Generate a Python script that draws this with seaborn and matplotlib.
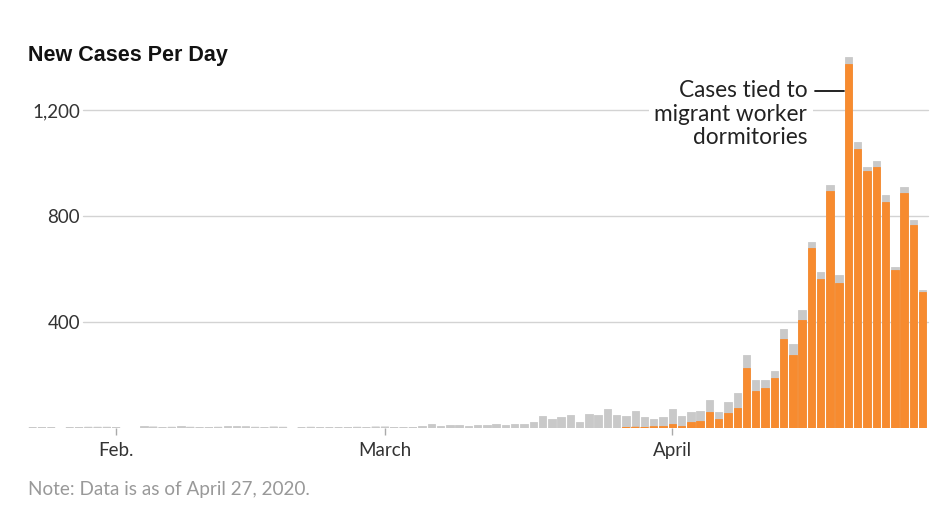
import numpy as np
import pandas as pd
import matplotlib
matplotlib.use("Agg")
import matplotlib.pyplot as plt
import seaborn as sns

# ---------------- data ----------------
start_date = "2020-01-23"
end_date = "2020-04-28"

total_cases = [
    # Jan 23 - Jan 31
    1, 2, 1, 0, 1, 2, 3, 3, 3,
    # Feb 1 - Feb 29
    2, 0, 0, 6, 4, 2, 3, 7, 3, 2, 2, 3, 8, 9, 5, 3, 2, 4, 3, 0, 1, 3, 1, 1, 1, 2, 3, 2, 4,
    # Mar 1 - Mar 31
    4, 2, 2, 2, 8, 15, 9, 13, 10, 6, 13, 10, 15, 11, 15, 16, 23, 45, 33, 40, 48, 23, 54,
    50, 71, 49, 46, 65, 40, 33, 43,
    # Apr 1 - Apr 28
    72, 45, 60, 64, 106, 59, 97, 133, 276, 181, 180, 215, 372, 317, 444, 702, 590, 916,
    579, 1399, 1079, 985, 1008, 879, 608, 908, 785, 522,
]

dorm_cases = (
    [0] * 9 + [0] * 29 +
    [0] * 26 + [1, 3, 2, 5, 9] +
    [15, 9, 24, 28, 59, 35, 58, 75, 228, 141, 152, 189, 335, 276, 408, 679, 564, 896,
     548, 1374, 1053, 969, 985, 853, 597, 888, 766, 512]
)

tick_dates = ["2020-02-01", "2020-03-01", "2020-04-01"]
tick_labels = ["Feb.", "March", "April"]
y_ticks = [400, 800, 1200]
y_tick_labels = ["400", "800", "1,200"]

title = "New Cases Per Day"
note = "Note: Data is as of April 27, 2020."
annotation = "Cases tied to\nmigrant worker\ndormitories"

# ---------------- frame ----------------
dates = pd.date_range(start_date, end_date, freq="D")
df = pd.DataFrame({
    "date": dates,
    "day": (dates - dates[0]).days,
    "total": total_cases,
    "dorm": dorm_cases,
})
# days without cases draw no bar at all
df["total_bar"] = df["total"].replace(0, np.nan)
df["dorm_bar"] = df["dorm"].replace(0, np.nan)
tick_pos = [(pd.Timestamp(d) - dates[0]).days for d in tick_dates]

GRAY = "#c9c9c9"
ORANGE = "#f78b2f"
GRID = "#d3d3d3"
TEXT = "#333333"

sns.set_style("white")
plt.rcParams["font.family"] = ["Lato", "DejaVu Sans"]

W, H = 949, 524
fig = plt.figure(figsize=(W / 100, H / 100), dpi=100)
L, R, B, T = 20, 930, 428, 40
ax = fig.add_axes([L / W, 1 - B / H, (R - L) / W, (B - T) / H])

bar_w = 0.80
edge_lw = 0.6
sns.barplot(data=df, x="day", y="total_bar", native_scale=True, orient="x",
            color=GRAY, saturation=1, width=bar_w, errorbar=None, ax=ax,
            linewidth=edge_lw, edgecolor=GRAY, zorder=2)
sns.barplot(data=df, x="day", y="dorm_bar", native_scale=True, orient="x",
            color=ORANGE, saturation=1, width=bar_w, errorbar=None, ax=ax,
            linewidth=edge_lw, edgecolor=ORANGE, zorder=3)
# very short bars: let them render as a thin antialiased strip instead of vanishing
for p in ax.patches:
    if np.isfinite(p.get_height()) and p.get_height() < 6:
        p.set_snap(False)

# x scale: first bar centre at 32.7px, pitch 9.27px/day
px0, pitch = 32.7, 9.27
ax.set_xlim((L - px0) / pitch, (R - px0) / pitch)
ax.set_ylim(0, (B - T) * 1200 / 318)

for yv in y_ticks:
    ax.axhline(yv, xmin=(83 - L) / (R - L), xmax=(928 - L) / (R - L),
               color=GRID, lw=1.0, zorder=1)

ax.set_yticks(y_ticks)
ax.set_yticklabels(y_tick_labels)
ax.tick_params(axis="y", length=0, pad=-43.2, labelsize=13.5, labelcolor=TEXT)

ax.set_xticks(tick_pos)
ax.set_xticklabels(tick_labels)
ax.tick_params(axis="x", length=5, width=1, color="#aaaaaa", pad=5,
               labelsize=13.5, labelcolor=TEXT, bottom=True)

ax.set_xlabel("")
ax.set_ylabel("")
for s in ax.spines.values():
    s.set_visible(False)

# annotation
peak = int(np.argmax(df["total"].values))
ann_y = 1272
ax.plot([peak - 3.6, peak - 0.45], [ann_y, ann_y], color="#111111", lw=1.3, zorder=4)
ax.text(peak - 4.45, ann_y - 202, annotation, ha="right", va="baseline", fontsize=16.3,
        color="#222222", linespacing=1.15, zorder=5,
        bbox=dict(facecolor="white", edgecolor="none", pad=4))

fig.text(28 / W, 1 - 55 / H, title, ha="left", va="center", fontsize=15.5,
         fontweight="bold", color="#121212", family=["Liberation Sans", "DejaVu Sans"])
fig.text(28 / W, 1 - 489 / H, note, ha="left", va="center", fontsize=13.6,
         color="#999999")

fig.savefig("out.png", dpi=100)
